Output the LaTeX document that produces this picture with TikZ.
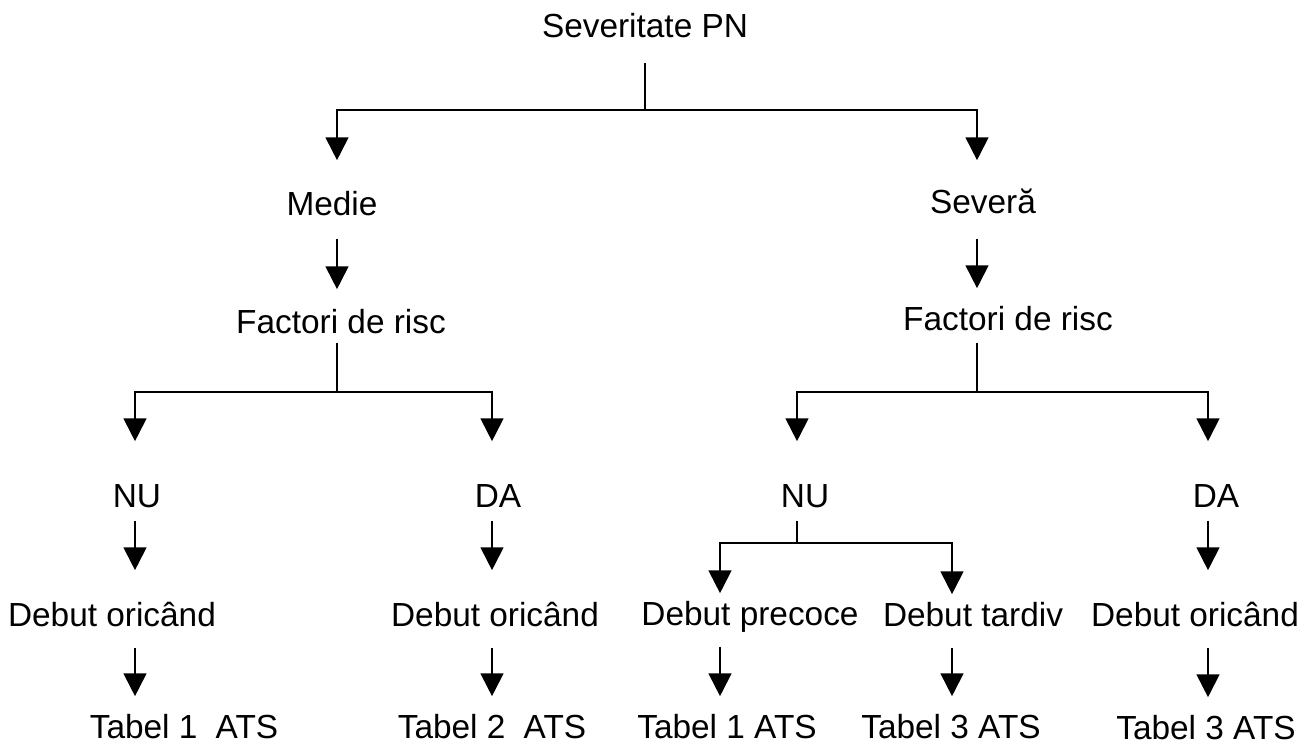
\documentclass[tikz,border=0pt]{standalone}
\usepackage{fontspec}
\setmainfont{Liberation Sans}
\usetikzlibrary{arrows.meta}

\tikzset{
  lbl/.style={anchor=base, inner sep=0pt, text height=13.3pt, text depth=0pt,
    font=\fontsize{19}{23}\selectfont},
  arr/.style={-{Triangle[length=13pt,width=13pt]}}
}

\begin{document}
\begin{tikzpicture}[x=0.02cm, y=-0.02cm, line width=1.1pt]
\useasboundingbox (0,0) rectangle (1307,748);

% Labels
\node[lbl] (spn) at (645,37) {Severitate PN};
\node[lbl] (medie) at (332,215) {Medie};
\node[lbl] (severa) at (983,213) {Severă};
\node[lbl] (factL) at (341,333) {Factori de risc};
\node[lbl] (factR) at (1008,330) {Factori de risc};
\node[lbl] (nuL) at (137,507) {NU};
\node[lbl] (daL) at (498,507) {DA};
\node[lbl] (nuR) at (805,507) {NU};
\node[lbl] (daR) at (1216,507) {DA};
\node[lbl] (debA) at (112,626) {Debut oricând};
\node[lbl] (debB) at (495,626) {Debut oricând};
\node[lbl] (debC) at (750,625) {Debut precoce};
\node[lbl] (debD) at (973,626) {Debut tardiv};
\node[lbl] (debE) at (1195,626) {Debut oricând};
\node[lbl] (tabA) at (184,738) {Tabel 1\hspace{0.55em}ATS};
\node[lbl] (tabB) at (492,738) {Tabel 2\hspace{0.55em}ATS};
\node[lbl] (tabC) at (727,738) {Tabel 1 ATS};
\node[lbl] (tabD) at (951,738) {Tabel 3 ATS};
\node[lbl] (tabE) at (1206,739) {Tabel 3 ATS};

% Branch points
\coordinate (j0) at (645,110);
\coordinate (jL) at (337,110);
\coordinate (jR) at (977,110);
\coordinate (kL) at (337,392);
\coordinate (kR) at (977,392);
\coordinate (kA) at (135,392);
\coordinate (kB) at (492,392);
\coordinate (kC) at (797,392);
\coordinate (kE) at (1208,392);
\coordinate (m0) at (797,543);
\coordinate (mC) at (720,543);
\coordinate (mD) at (952,543);

% Severitate PN split
\draw[shorten <=0.5cm] (spn.south -| j0) -- (j0);
\draw[arr, shorten >=0.61cm] (j0) -| (medie.north -| jL);
\draw[arr, shorten >=0.57cm] (j0) -| (severa.north -| jR);

% Down to Factori de risc
\draw[arr, shorten <=0.46cm, shorten >=0.39cm] (medie.south -| jL) -- (factL.north -| jL);
\draw[arr, shorten <=0.5cm, shorten >=0.35cm] (severa.south -| jR) -- (factR.north -| jR);

% Factori de risc splits
\draw[shorten <=0.18cm] (factL.south -| kL) -- (kL);
\draw[arr, shorten >=0.83cm] (kL) -| (nuL.north -| kA);
\draw[arr, shorten >=0.83cm] (kL) -| (daL.north -| kB);
\draw[shorten <=0.24cm] (factR.south -| kR) -- (kR);
\draw[arr, shorten >=0.83cm] (kR) -| (nuR.north -| kC);
\draw[arr, shorten >=0.83cm] (kR) -| (daR.north -| kE);

% NU / DA down to Debut
\draw[arr, shorten <=0.26cm, shorten >=0.63cm] (nuL.south -| kA) -- (debA.north -| kA);
\draw[arr, shorten <=0.26cm, shorten >=0.63cm] (daL.south -| kB) -- (debB.north -| kB);
\draw[arr, shorten <=0.26cm, shorten >=0.63cm] (daR.south -| kE) -- (debE.north -| kE);
\draw[shorten <=0.26cm] (nuR.south -| m0) -- (m0);
\draw[arr, shorten >=0.15cm] (m0) -| (debC.north -| mC);
\draw[arr, shorten >=0.15cm] (m0) -| (debD.north -| mD);

% Debut down to Tabel
\foreach \d/\t/\c in {debA/tabA/kA, debB/tabB/kB, debC/tabC/mC, debD/tabD/mD, debE/tabE/kE}
  \draw[arr, shorten <=0.42cm, shorten >=0.35cm] (\d.south -| \c) -- (\t.north -| \c);
\end{tikzpicture}
\end{document}
